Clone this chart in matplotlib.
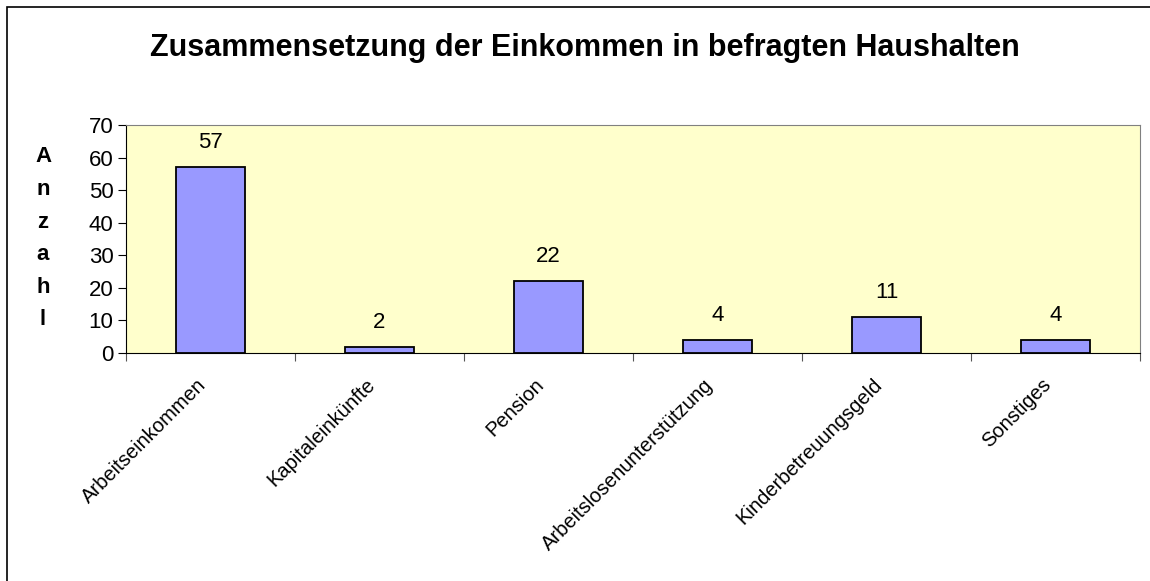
import matplotlib.pyplot as plt
from matplotlib.patches import Rectangle
from matplotlib.transforms import ScaledTranslation

plt.rcParams['font.family'] = ['Liberation Sans', 'DejaVu Sans']

# Daten
kategorien = ['Arbeitseinkommen', 'Kapitaleinkünfte', 'Pension',
              'Arbeitslosenunterstützung', 'Kinderbetreuungsgeld', 'Sonstiges']
anzahl = [57, 2, 22, 4, 11, 4]
y_ticks = [0, 10, 20, 30, 40, 50, 60, 70]

fig = plt.figure(figsize=(11.5, 5.81), dpi=100)
ax = fig.add_axes([0.1096, 0.3924, 0.8817, 0.3925])

x = list(range(len(kategorien)))
bars = ax.bar(x, anzahl, width=0.41, color='#9999FF', edgecolor='black', linewidth=1.3, zorder=3)

ax.set_facecolor('#FFFFCC')
ax.set_xlim(-0.5, len(kategorien) - 0.5)
ax.set_ylim(0, 70)
ax.set_yticks(y_ticks)
ax.tick_params(axis='y', labelsize=16, length=6, direction='out', width=0.8, pad=3)

# Kategorie-Trennstriche unter der x-Achse
ax.set_xticks([i - 0.5 for i in range(len(kategorien) + 1)], minor=False)
ax.set_xticklabels([])
ax.tick_params(axis='x', length=6, direction='out', width=0.8, color='#555555')
ax.set_xticks(x, minor=True)
ax.set_xticklabels(kategorien, minor=True, rotation=45, ha='right',
                   rotation_mode='anchor', fontsize=14.5)
ax.tick_params(axis='x', which='minor', length=0, pad=16)
verschiebung = ScaledTranslation(-0.14, 0, fig.dpi_scale_trans)
for lbl in ax.get_xticklabels(minor=True):
    lbl.set_transform(lbl.get_transform() + verschiebung)

for s in ['top', 'right']:
    ax.spines[s].set_color('#808080')
for s in ['left', 'bottom']:
    ax.spines[s].set_color('black')

for b, v in zip(bars, anzahl):
    ax.annotate(str(v), (b.get_x() + b.get_width() / 2, v), xytext=(0, 10),
                textcoords='offset points', ha='center', va='bottom', fontsize=16)

fig.text(0.5087, 0.917, 'Zusammensetzung der Einkommen in befragten Haushalten',
         ha='center', va='center', fontsize=22, fontweight='bold')

# senkrecht gestapelte Achsenbeschriftung
for i, ch in enumerate('Anzahl'):
    fig.text(0.0374, 1 - (157 + i * 32.6) / 581, ch, ha='center', va='center',
             fontsize=16, fontweight='bold')

fig.patches.append(Rectangle((7 / 1150, -0.1), 1.2, 1.1 - 7 / 581, transform=fig.transFigure,
                             fill=False, edgecolor='black', linewidth=1.2))

fig.savefig('out.png', dpi=100)
